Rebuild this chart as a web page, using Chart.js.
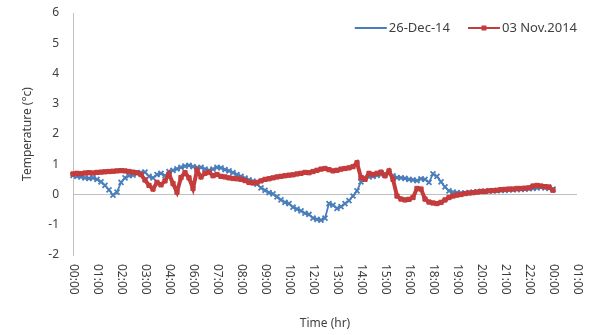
<!DOCTYPE html>
<html>
<head>
<meta charset="utf-8">
<script src="https://cdn.jsdelivr.net/npm/chart.js@4.4.1/dist/chart.umd.min.js"></script>
<style>
  html, body { margin: 0; padding: 0; background: #fff; }
  #wrap { width: 589px; height: 335px; }
</style>
</head>
<body>
<div id="wrap"><canvas id="tempChart"></canvas></div>
<script>
// tick labels along the time axis (as printed on the original chart)
const tickLabels = ["00:00", "01:00", "02:00", "03:00", "04:00", "06:00", "07:00", "08:00", "09:00", "10:00", "12:00",
    "13:00", "14:00", "15:00", "16:00", "18:00", "19:00", "20:00", "21:00", "22:00", "00:00", "01:00"];
const pointsPerLabel = 6;

// 26-Dec-14 readings (°c)
const dec26 = [0.63, 0.60, 0.58, 0.55, 0.53, 0.55, 0.50, 0.42, 0.30, 0.15, -0.02, 0.08, 0.40, 0.55, 0.62, 0.64,
    0.70, 0.72, 0.74, 0.60, 0.55, 0.66, 0.70, 0.62, 0.76, 0.80, 0.85, 0.90, 0.94, 0.96, 0.92, 0.88,
    0.90, 0.84, 0.80, 0.84, 0.90, 0.88, 0.82, 0.78, 0.72, 0.66, 0.60, 0.54, 0.48, 0.44, 0.34, 0.22,
    0.14, 0.06, 0.02, -0.08, -0.18, -0.26, -0.30, -0.42, -0.48, -0.54, -0.62, -0.66, -0.78, -0.82, -0.85, -0.78,
    -0.30, -0.35, -0.46, -0.40, -0.30, -0.20, -0.05, 0.12, 0.42, 0.55, 0.58, 0.60, 0.63, 0.66, 0.68, 0.70,
    0.62, 0.56, 0.55, 0.53, 0.50, 0.48, 0.46, 0.52, 0.50, 0.40, 0.68, 0.60, 0.42, 0.25, 0.12, 0.08,
    0.06, 0.05, 0.05, 0.06, 0.08, 0.09, 0.10, 0.11, 0.12, 0.12, 0.13, 0.14, 0.14, 0.15, 0.16, 0.16,
    0.17, 0.18, 0.19, 0.20, 0.22, 0.24, 0.22, 0.20, 0.18];

// 03 Nov.2014 readings (°c)
const nov03 = [0.68, 0.70, 0.69, 0.71, 0.72, 0.71, 0.73, 0.74, 0.75, 0.76, 0.77, 0.78, 0.79, 0.78, 0.76, 0.74,
    0.72, 0.66, 0.48, 0.30, 0.18, 0.40, 0.32, 0.45, 0.68, 0.36, 0.08, 0.56, 0.72, 0.55, 0.20, 0.80,
    0.58, 0.70, 0.74, 0.62, 0.66, 0.60, 0.58, 0.55, 0.53, 0.52, 0.50, 0.46, 0.40, 0.38, 0.40, 0.45,
    0.50, 0.52, 0.55, 0.58, 0.60, 0.62, 0.64, 0.65, 0.68, 0.70, 0.73, 0.72, 0.76, 0.80, 0.84, 0.86,
    0.82, 0.78, 0.80, 0.84, 0.86, 0.88, 0.92, 1.05, 0.55, 0.50, 0.70, 0.66, 0.70, 0.74, 0.62, 0.78,
    0.50, -0.05, -0.15, -0.18, -0.16, -0.10, 0.20, 0.18, -0.15, -0.25, -0.28, -0.30, -0.26, -0.18, -0.10, -0.05,
    -0.02, 0.00, 0.03, 0.05, 0.06, 0.08, 0.10, 0.10, 0.12, 0.13, 0.14, 0.16, 0.17, 0.18, 0.18, 0.20,
    0.20, 0.21, 0.22, 0.28, 0.30, 0.28, 0.26, 0.25, 0.14];

const blue = '#4a7ebb';
const red = '#c43c3c';
const textColor = '#404040';
const fontFamily = '"Noto Sans", sans-serif';

// category axis: one printed label followed by unlabelled points
let categories = [];
tickLabels.forEach((lbl, j) => {
    categories.push(lbl);
    if (j < tickLabels.length - 1) {
        for (let k = 1; k < pointsPerLabel; k++) categories.push('');
    }
});

// time labels printed top-to-bottom under the plot
const verticalTimeLabels = {
    id: 'verticalTimeLabels',
    afterDraw(chart) {
        let xs = chart.scales.x;
        let ctx = chart.ctx;
        ctx.save();
        ctx.font = '12px ' + fontFamily;
        ctx.fillStyle = textColor;
        ctx.textAlign = 'left';
        ctx.textBaseline = 'middle';
        categories.forEach((lbl, i) => {
            if (!lbl) return;
            ctx.save();
            ctx.translate(xs.getPixelForValue(i), chart.chartArea.bottom + 9);
            ctx.rotate(Math.PI / 2);
            ctx.fillText(lbl, 0, 0);
            ctx.restore();
        });
        ctx.restore();
    }
};

// legend inside the plot, top right: line sample with marker, then the name
const insideLegend = {
    id: 'insideLegend',
    afterDraw(chart) {
        let ctx = chart.ctx;
        let area = chart.chartArea;
        let y = area.top + 15;
        let sampleW = 32;
        ctx.save();
        ctx.font = '13px ' + fontFamily;
        ctx.textBaseline = 'middle';
        ctx.textAlign = 'left';
        let x = area.right;
        let items = chart.data.datasets.slice().reverse();
        items.forEach(ds => {
            let tw = ctx.measureText(ds.label).width;
            x -= tw;
            ctx.fillStyle = textColor;
            ctx.fillText(ds.label, x, y);
            x -= 2 + sampleW;
            ctx.strokeStyle = ds.borderColor;
            ctx.lineWidth = 1.8;
            ctx.beginPath(); ctx.moveTo(x, y); ctx.lineTo(x + sampleW, y); ctx.stroke();
            let cx = x + sampleW / 2;
            if (ds.pointStyle === 'rect') {
                ctx.fillStyle = ds.borderColor;
                ctx.fillRect(cx - 2.5, y - 2.5, 5, 5);
            }
            x -= 18;
        });
        ctx.restore();
    }
};

let tempChart = new Chart(document.getElementById('tempChart'), {
    type: 'line',
    data: {
        labels: categories,
        datasets: [
            {
                label: '26-Dec-14',
                data: dec26,
                borderColor: blue,
                backgroundColor: blue,
                borderWidth: 1.8,
                pointStyle: 'crossRot',
                pointRadius: 3.5,
                pointBorderWidth: 1.8,
                pointBorderColor: blue,
                tension: 0,
                order: 2
            },
            {
                label: '03 Nov.2014',
                data: nov03,
                borderColor: red,
                backgroundColor: red,
                borderWidth: 4,
                pointStyle: 'rect',
                pointRadius: 3,
                pointBorderWidth: 1,
                pointBorderColor: red,
                tension: 0,
                order: 1
            }
        ]
    },
    options: {
        responsive: true,
        maintainAspectRatio: false,
        animation: false,
        layout: { padding: { top: 13, right: 12, left: 20, bottom: 0 } },
        plugins: {
            tooltip: { enabled: false },
            legend: { display: false }
        },
        scales: {
            x: {
                type: 'category',
                grid: { display: false },
                border: { display: false },
                ticks: { display: false, autoSkip: false },
                title: {
                    display: true,
                    text: 'Time (hr)',
                    color: textColor,
                    font: { family: fontFamily, size: 12 },
                    padding: { top: 0, bottom: 4 }
                },
                afterFit(scale) { scale.height = 80; }
            },
            y: {
                min: -2,
                max: 6,
                ticks: {
                    stepSize: 1,
                    color: textColor,
                    font: { family: fontFamily, size: 12 },
                    padding: 14
                },
                grid: {
                    drawTicks: false,
                    color: ctx => ctx.tick && ctx.tick.value === 0 ? '#c0c0c0' : 'transparent'
                },
                border: { display: true, color: '#bfbfbf' },
                title: {
                    display: true,
                    text: 'Temperature (°c)',
                    color: textColor,
                    font: { family: fontFamily, size: 12 },
                    padding: { top: 0, bottom: 0 }
                },
                afterFit(scale) {
                    scale.width = 53;
                    scale.paddingTop = 0;
                    scale.paddingBottom = 0;
                }
            }
        }
    },
    plugins: [verticalTimeLabels, insideLegend]
});
</script>
</body>
</html>
